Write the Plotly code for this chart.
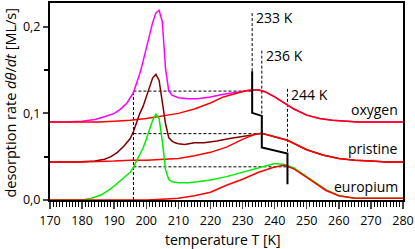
import plotly.graph_objects as go

# ---------------- data ----------------
# oxygen-covered surface
oxy_T1 = [170,175,180,184,187,190,192,194,196,197,198,199,200,201,202,203,204,205,206,207,208,210,213,216,220,224,228,231,233,235,237,240,243,246,250,254,258,262,266,270,275,280]
oxy_v1 = [0.090,0.090,0.091,0.093,0.096,0.100,0.105,0.112,0.124,0.134,0.146,0.160,0.175,0.190,0.205,0.216,0.219,0.206,0.152,0.126,0.121,0.118,0.117,0.117,0.119,0.122,0.124,0.126,0.127,0.127,0.125,0.119,0.112,0.105,0.098,0.094,0.092,0.091,0.090,0.090,0.090,0.090]
oxy_T2 = [170,180,185,190,195,200,205,210,215,220,224,228,231,233,235,237,240,243,246,250,254,258,262,266,270,275,280]
oxy_v2 = [0.090,0.090,0.090,0.091,0.092,0.094,0.097,0.100,0.105,0.112,0.119,0.123,0.126,0.127,0.127,0.125,0.119,0.112,0.105,0.098,0.094,0.092,0.091,0.090,0.090,0.090,0.090]

# pristine surface
pri_T1 = [170,178,184,187,189,191,193,195,196,197,198,199,200,201,202,203,204,205,206,207,208,209,210,212,215,218,222,226,230,233,236,240,244,250,255,260,265,270,275,280]
pri_v1 = [0.044,0.044,0.045,0.047,0.050,0.055,0.062,0.071,0.079,0.090,0.100,0.108,0.118,0.130,0.141,0.145,0.138,0.115,0.088,0.072,0.068,0.066,0.065,0.064,0.066,0.066,0.068,0.071,0.073,0.075,0.077,0.073,0.069,0.058,0.052,0.048,0.046,0.045,0.044,0.044]
pri_T2 = [170,180,190,195,200,205,210,215,220,225,230,234,236,240,244,250,255,260,265,270,275,280]
pri_v2 = [0.044,0.044,0.045,0.046,0.046,0.047,0.048,0.051,0.055,0.061,0.070,0.076,0.077,0.073,0.069,0.058,0.052,0.048,0.046,0.045,0.044,0.044]

# europium-covered surface
eu_T1 = [170,180,183,186,189,192,195,196,198,199,200,201,202,203,204,205,206,207,208,210,213,216,220,225,229,235,240,243,246,250,253,256,260,265,270,280]
eu_v1 = [0.000,0.000,0.002,0.006,0.013,0.022,0.032,0.038,0.052,0.060,0.070,0.080,0.092,0.099,0.094,0.068,0.035,0.024,0.021,0.020,0.020,0.021,0.023,0.027,0.031,0.037,0.042,0.041,0.037,0.027,0.019,0.012,0.005,0.002,0.002,0.002]
eu_T2 = [170,195,200,205,210,215,220,225,230,235,240,243,246,250,253,256,260,265,270,280]
eu_v2 = [0.000,0.000,0.000,0.001,0.002,0.005,0.009,0.017,0.024,0.032,0.038,0.040,0.036,0.026,0.018,0.011,0.005,0.002,0.002,0.002]

sample_names = ["oxygen", "pristine", "europium"]
peak_T = [233, 236, 244]
peak_levels = [0.1257, 0.0766, 0.0383]
onset_T = 196
peak_labels = ["233 K", "236 K", "244 K"]

# staircase marking the peak shift
stair_T = [233, 233, 236, 236, 244, 244]
stair_v = [0.1486, 0.1006, 0.0971, 0.0606, 0.0537, 0.0183]

x_ticks = list(range(170, 281, 10))
y_ticks = [0.0, 0.1, 0.2]

# ---------------- figure ----------------
FONT = "Open Sans"
fig = go.Figure()

curves = [
    (oxy_T1, oxy_v1, "#ff00ff"),
    (oxy_T2, oxy_v2, "#ff0000"),
    (pri_T1, pri_v1, "#800000"),
    (pri_T2, pri_v2, "#ff0000"),
    (eu_T1, eu_v1, "#00ee00"),
    (eu_T2, eu_v2, "#ff0000"),
]
for T, v, c in curves:
    fig.add_trace(go.Scatter(x=T, y=v, mode="lines", line=dict(color=c, width=1.5),
                             hoverinfo="skip", showlegend=False))

fig.add_trace(go.Scatter(x=stair_T, y=stair_v, mode="lines", hoverinfo="skip",
                         line=dict(color="black", width=2), showlegend=False))

dash = dict(color="black", width=1, dash="3px,2px")
dashed_top = [0.217, 0.174, 0.129]
shapes = []
shapes.append(dict(type="line", xref="x", yref="y", x0=onset_T, x1=onset_T,
                   y0=0, y1=peak_levels[0], line=dash, layer="below"))
for pT, lvl, top in zip(peak_T, peak_levels, dashed_top):
    shapes.append(dict(type="line", xref="x", yref="y", x0=onset_T, x1=pT,
                       y0=lvl, y1=lvl, line=dash, layer="below"))
    shapes.append(dict(type="line", xref="x", yref="y", x0=pT, x1=pT,
                       y0=lvl, y1=top, line=dash, layer="below"))

annotations = []
label_y = [0.211, 0.167, 0.122]
for pT, lab, ly in zip(peak_T, peak_labels, label_y):
    annotations.append(dict(x=pT, y=ly, xref="x", yref="y", text=lab, showarrow=False,
                            xanchor="left", yanchor="middle", xshift=2,
                            font=dict(family=FONT, size=14, color="black")))
name_y = [0.104, 0.059, 0.016]
for nm, ny in zip(sample_names, name_y):
    annotations.append(dict(x=280, y=ny, xref="x", yref="y", text=nm, showarrow=False,
                            xanchor="right", yanchor="middle", xshift=-3,
                            font=dict(family=FONT, size=14, color="black")))
annotations.append(dict(x=0.49, y=-0.199, xref="paper", yref="paper",
                        text="temperature T [K]", showarrow=False,
                        xanchor="center", yanchor="middle",
                        font=dict(family=FONT, size=14, color="black")))
annotations.append(dict(x=-0.113, y=0.495, xref="paper", yref="paper",
                        text="desorption rate <i>dθ</i>/<i>dt</i> [ML/s]", showarrow=False,
                        textangle=-90, xanchor="center", yanchor="middle",
                        font=dict(family=FONT, size=14.5, color="black")))

fig.update_layout(
    width=415, height=249,
    margin=dict(l=50, r=10, t=1, b=49),
    paper_bgcolor="white", plot_bgcolor="white",
    separators=",.",
    hovermode=False,
    shapes=shapes, annotations=annotations,
    font=dict(family=FONT, size=12, color="black"),
    xaxis=dict(range=[170, 280], tickvals=x_ticks, ticks="outside", ticklen=7, tickwidth=1.5,
               showline=True, linecolor="black", linewidth=2, mirror=True,
               showgrid=False, zeroline=False, tickfont=dict(size=12.5, family=FONT),
               ticklabelstandoff=1, ticklabeloverflow="allow",
               minor=dict(dtick=1, ticks="outside", ticklen=5, tickwidth=1, tickcolor="black", showgrid=False)),
    yaxis=dict(range=[0, 0.2274], tickvals=y_ticks, tickformat=".1f", ticks="outside",
               ticklen=5, tickwidth=2, showline=True, linecolor="black", linewidth=2, mirror=True,
               showgrid=False, zeroline=False, tickfont=dict(size=12.5, family=FONT),
               minor=dict(dtick=0.05, ticks="outside", ticklen=4, tickwidth=2, tickcolor="black", showgrid=False)),
)

fig.write_html("out.html", config={"displayModeBar": False, "staticPlot": True},
               post_script="document.body.style.margin='0px';document.body.style.overflow='hidden';")
